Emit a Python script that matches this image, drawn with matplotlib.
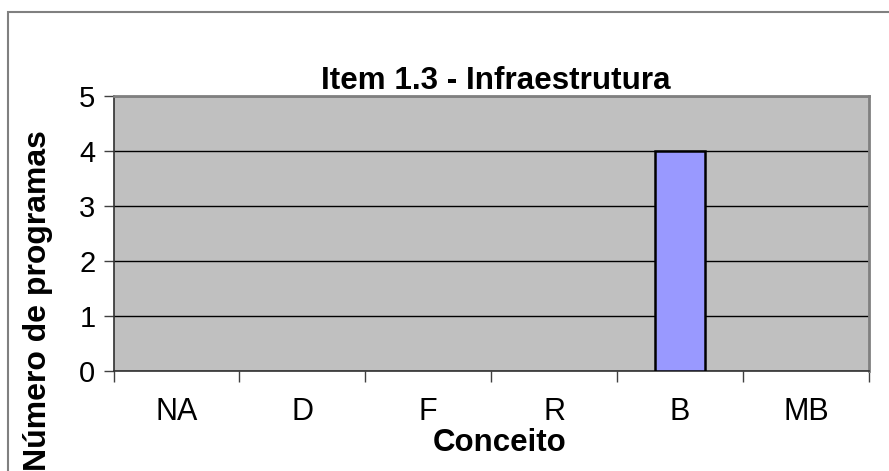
import matplotlib.pyplot as plt
from matplotlib.patches import Rectangle
import numpy as np

plt.rcParams['font.family'] = ['Liberation Sans', 'DejaVu Sans']

categories = ['NA', 'D', 'F', 'R', 'B', 'MB']
counts = [0, 0, 0, 0, 4, 0]
yticks = [0, 1, 2, 3, 4, 5]

W, H = 889, 471
fig = plt.figure(figsize=(W / 100, H / 100), dpi=100)
ax = fig.add_axes([113.5 / W, 1 - 371 / H, (869 - 113.5) / W, (371 - 96) / H])

ax.set_facecolor('#c0c0c0')
x = np.arange(len(categories)) + 0.5
edge_w = [1.8 if c else 0 for c in counts]
ax.bar(x, counts, width=0.4, color='#9999ff', edgecolor='black', linewidth=edge_w, zorder=3)

ax.set_xlim(0, len(categories))
ax.set_ylim(0, 5)
ax.set_yticks(yticks)
ax.yaxis.grid(True, color='black', linewidth=1.0, zorder=1)
ax.set_axisbelow(True)

# category boundaries get the ticks, labels sit in between
ax.set_xticks(np.arange(len(categories) + 1))
ax.set_xticklabels([])
ax.set_xticks(x, minor=True)
ax.set_xticklabels(categories, minor=True)
ax.tick_params(axis='x', which='minor', length=0, pad=19, labelsize=22)
ax.tick_params(axis='x', which='major', length=8, width=1, color='#404040', direction='out')
ax.tick_params(axis='y', length=7, width=1, color='#404040', labelsize=21, pad=6)

for s in ['left', 'bottom']:
    ax.spines[s].set_color('#303030')
    ax.spines[s].set_linewidth(1.2)
for s in ['top', 'right']:
    ax.spines[s].set_color('#808080')
    ax.spines[s].set_linewidth(2)

ax.set_title('Item 1.3 - Infraestrutura', fontsize=22.6, fontweight='bold', pad=3, x=0.506)
ax.set_xlabel('Conceito', fontsize=22.5, fontweight='bold')
ax.xaxis.set_label_coords(0.5116, -0.207)
ax.set_ylabel('Número de programas', fontsize=23, fontweight='bold')
ax.yaxis.set_label_coords(-0.080, 0.255)

# outer chart frame (left and top edges visible)
fig.patches.append(Rectangle((8 / W, -0.1), 1.2, 1.1 - 12 / H, transform=fig.transFigure,
                             fill=False, edgecolor='#808080', linewidth=1.5))

fig.savefig('out.png', dpi=100)
